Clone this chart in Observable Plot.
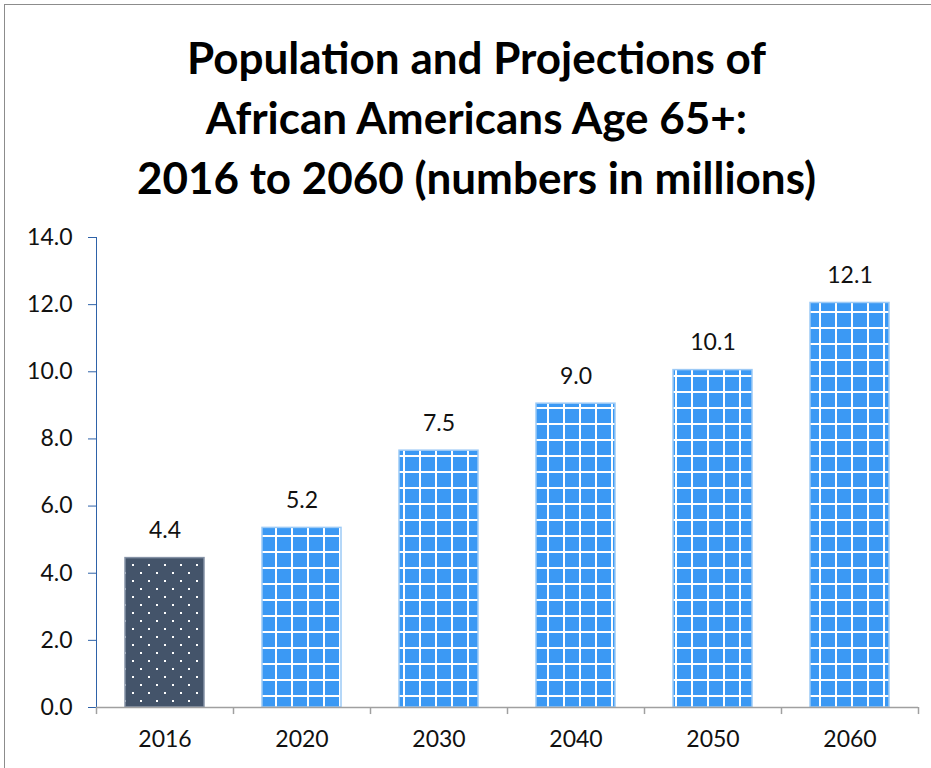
<!DOCTYPE html>
<html>
<head>
<meta charset="utf-8">
<script src="https://cdn.jsdelivr.net/npm/d3@7"></script>
<script src="https://cdn.jsdelivr.net/npm/@observablehq/plot@0.6"></script>
<style>
  html, body { margin: 0; padding: 0; background: #fff; }
  body { width: 931px; height: 768px; position: relative; overflow: hidden; font-family: Lato, "Open Sans", sans-serif; }
  #border { position: absolute; left: 4px; top: 4px; width: 1000px; height: 1000px; border: 1.5px solid #8c8c8c; box-sizing: border-box; }
  #title { position: relative; height: 210px; box-sizing: border-box; padding-top: 27px; padding-left: 22px; text-align: center; font-weight: 700; font-size: 44px; line-height: 60px; color: #000; white-space: nowrap; }
  #chart { position: relative; }
</style>
</head>
<body>
<div id="border"></div>
<div id="title">Population and Projections of<br>African Americans Age 65+:<br>2016 to 2060 (numbers in millions)</div>
<div id="chart"></div>
<script>
const years = ["2016", "2020", "2030", "2040", "2050", "2060"];
const values = [4.45, 5.35, 7.65, 9.05, 10.05, 12.05];
const valueLabels = ["4.4", "5.2", "7.5", "9.0", "10.1", "12.1"];
const kinds = ["observed", "projected", "projected", "projected", "projected", "projected"];
const yTicks = [0, 2, 4, 6, 8, 10, 12, 14];

const data = years.map((y, i) => ({year: y, value: values[i], label: valueLabels[i], kind: kinds[i]}));

const W = 931, H = 558, ML = 96, MR = 13;
const step = (W - ML - MR) / years.length;

const plot = Plot.plot({
  width: W,
  height: H,
  marginLeft: ML,
  marginRight: MR,
  marginTop: 27,
  marginBottom: 61,
  style: {fontFamily: "Lato, 'Open Sans', sans-serif", fontSize: "23px", color: "#111", background: "transparent"},
  x: {domain: years, paddingInner: 0.42, paddingOuter: 0.21, label: null},
  y: {domain: [0, 14], label: null},
  marks: [
    Plot.barY(data.filter(d => d.kind === "observed"), {x: "year", y: "value", fill: "url(#dots)", stroke: "#8592a6", strokeWidth: 1.5}),
    Plot.barY(data.filter(d => d.kind === "projected"), {x: "year", y: "value", fill: "url(#grid)", stroke: "#9ccaf6", strokeWidth: 1.5}),
    Plot.text(data, {x: "year", y: "value", text: "label", dy: -27, fontSize: 23, fill: "#111"}),
    Plot.axisY({ticks: yTicks, tickFormat: d3.format(".1f"), tickSize: 8, tickPadding: 16, stroke: "#2e62a8", fill: "#111", fontSize: 23, label: null}),
    Plot.frame({anchor: "left", stroke: "#2e62a8", strokeWidth: 1}),
    Plot.ruleY([0], {stroke: "#a0a0a0", strokeWidth: 1.5}),
    Plot.ruleX(years, {x: d => d, dx: -step / 2, y1: 0, y2: -0.21, stroke: "#a0a0a0", strokeWidth: 1.5}),
    Plot.ruleX(years.slice(-1), {x: d => d, dx: step / 2, y1: 0, y2: -0.21, stroke: "#a0a0a0", strokeWidth: 1.5}),
    Plot.axisX({tickSize: 0, tickPadding: 23, fill: "#111", fontSize: 23, label: null})
  ]
});

const svg = d3.select(plot);
const defs = svg.insert("defs", ":first-child");
const dots = defs.append("pattern").attr("id", "dots").attr("patternUnits", "userSpaceOnUse")
  .attr("width", 16).attr("height", 16).attr("x", 4).attr("y", 2);
dots.append("rect").attr("width", 16).attr("height", 16).attr("fill", "#44546a");
dots.append("rect").attr("x", 0).attr("y", 0).attr("width", 2).attr("height", 2).attr("fill", "#fff");
dots.append("rect").attr("x", 8).attr("y", 8).attr("width", 2).attr("height", 2).attr("fill", "#fff");

const grid = defs.append("pattern").attr("id", "grid").attr("patternUnits", "userSpaceOnUse")
  .attr("width", 16).attr("height", 16).attr("x", 3).attr("y", 5);
grid.append("rect").attr("width", 16).attr("height", 16).attr("fill", "#3b99f4");
grid.append("rect").attr("x", 0).attr("y", 0).attr("width", 2).attr("height", 16).attr("fill", "#fff");
grid.append("rect").attr("x", 0).attr("y", 0).attr("width", 16).attr("height", 2).attr("fill", "#fff");

document.getElementById("chart").appendChild(plot);
</script>
</body>
</html>
